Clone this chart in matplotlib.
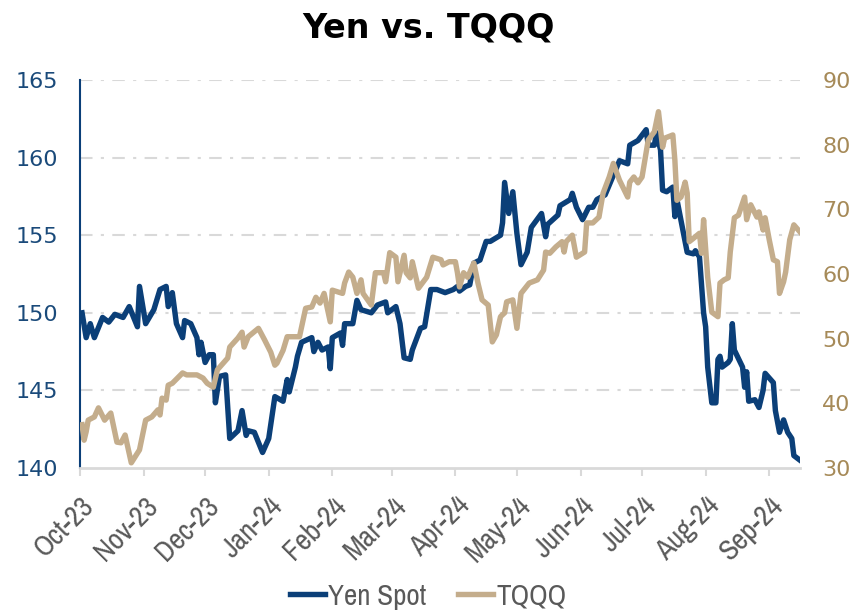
import matplotlib
matplotlib.use("Agg")
import matplotlib.pyplot as plt
import matplotlib.dates as mdates
from matplotlib import font_manager
import pandas as pd

# ── colours ──────────────────────────────────────────────────────────────────
BLUE = "#0b3f78"
BLUE_TXT = "#1a4a7a"
TAN = "#c4ad8c"
TAN_TXT = "#a68a58"
GRID = "#d9d9d9"
GRAY_TXT = "#595959"

# narrow font for the date labels / legend, if one is installed
NARROW = "DejaVu Sans"
for f in font_manager.fontManager.ttflist:
    if "Narrow" in f.name or "Condensed" in f.name:
        NARROW = f.name
        break

# ── data ─────────────────────────────────────────────────────────────────────
yen_dates = [
    "2023-10-02", "2023-10-04", "2023-10-06", "2023-10-08", "2023-10-12", "2023-10-15",
    "2023-10-18", "2023-10-22", "2023-10-25", "2023-10-29", "2023-10-30", "2023-11-02",
    "2023-11-06", "2023-11-09", "2023-11-12", "2023-11-13", "2023-11-15", "2023-11-17",
    "2023-11-20", "2023-11-21", "2023-11-24", "2023-11-27", "2023-11-28", "2023-11-29",
    "2023-12-01", "2023-12-03", "2023-12-05", "2023-12-06", "2023-12-08", "2023-12-11",
    "2023-12-13", "2023-12-17", "2023-12-19", "2023-12-21", "2023-12-22", "2023-12-25",
    "2023-12-29", "2024-01-01", "2024-01-04", "2024-01-08", "2024-01-10", "2024-01-11",
    "2024-01-14", "2024-01-15", "2024-01-17", "2024-01-22", "2024-01-23", "2024-01-25",
    "2024-01-27", "2024-01-30", "2024-01-31", "2024-02-01", "2024-02-05", "2024-02-06",
    "2024-02-07", "2024-02-11", "2024-02-13", "2024-02-15", "2024-02-20", "2024-02-23",
    "2024-02-27", "2024-02-28", "2024-03-03", "2024-03-05", "2024-03-07", "2024-03-10",
    "2024-03-11", "2024-03-15", "2024-03-17", "2024-03-20", "2024-03-23", "2024-03-27",
    "2024-03-31", "2024-04-02", "2024-04-03", "2024-04-06", "2024-04-08", "2024-04-10",
    "2024-04-13", "2024-04-16", "2024-04-18", "2024-04-23", "2024-04-24", "2024-04-25",
    "2024-04-27", "2024-04-29", "2024-05-01", "2024-05-03", "2024-05-06", "2024-05-08",
    "2024-05-13", "2024-05-15", "2024-05-16", "2024-05-21", "2024-05-22", "2024-05-27",
    "2024-05-28", "2024-05-30", "2024-06-02", "2024-06-05", "2024-06-07", "2024-06-09",
    "2024-06-13", "2024-06-20", "2024-06-24", "2024-06-25", "2024-06-29", "2024-07-03",
    "2024-07-04", "2024-07-07", "2024-07-08", "2024-07-10", "2024-07-11", "2024-07-13",
    "2024-07-16", "2024-07-17", "2024-07-18", "2024-07-23", "2024-07-26", "2024-07-27",
    "2024-07-29", "2024-07-31", "2024-08-01", "2024-08-02", "2024-08-04", "2024-08-06",
    "2024-08-07", "2024-08-08", "2024-08-09", "2024-08-12", "2024-08-13", "2024-08-14",
    "2024-08-15", "2024-08-19", "2024-08-20", "2024-08-21", "2024-08-22", "2024-08-25",
    "2024-08-27", "2024-08-29", "2024-08-30", "2024-09-03", "2024-09-04", "2024-09-06",
    "2024-09-08", "2024-09-10", "2024-09-12", "2024-09-13", "2024-09-16",
]
yen_spot = [
    150.0, 148.4, 149.3, 148.4, 149.7, 149.4,
    149.9, 149.7, 150.4, 149.1, 151.7, 149.3,
    150.2, 151.5, 151.7, 150.4, 151.3, 149.3,
    148.4, 149.5, 149.3, 148.4, 147.3, 148.1,
    146.8, 147.3, 147.3, 144.2, 145.9, 146.0,
    141.9, 142.4, 143.7, 142.1, 142.4, 142.3,
    141.0, 141.9, 144.6, 144.3, 145.7, 144.9,
    146.5, 147.2, 148.1, 148.4, 147.5, 148.1,
    147.6, 147.8, 146.4, 148.4, 148.7, 147.9,
    149.3, 149.3, 150.8, 150.2, 150.0, 150.5,
    150.7, 150.0, 150.4, 149.3, 147.1, 147.0,
    147.6, 149.0, 149.1, 151.5, 151.5, 151.3,
    151.5, 151.7, 151.4, 151.7, 151.8, 153.2,
    153.4, 154.6, 154.6, 155.0, 155.8, 158.4,
    156.4, 157.8, 155.1, 153.1, 153.9, 155.5,
    156.4, 154.9, 155.7, 156.3, 156.9, 157.3,
    157.7, 156.8, 156.0, 156.8, 156.8, 157.3,
    157.6, 159.8, 159.6, 160.8, 161.1, 161.8,
    160.8, 160.8, 161.6, 160.5, 157.9, 157.8,
    158.1, 156.2, 157.3, 153.9, 153.8, 154.0,
    153.6, 150.0, 149.1, 146.5, 144.2, 144.2,
    147.0, 147.2, 146.5, 146.8, 147.0, 149.3,
    147.6, 146.5, 145.2, 146.2, 144.3, 144.4,
    143.9, 145.0, 146.1, 145.5, 143.7, 142.3,
    143.1, 142.3, 141.9, 140.8, 140.5,
]

tqqq_dates = [
    "2023-10-02", "2023-10-03", "2023-10-04", "2023-10-05", "2023-10-08", "2023-10-10",
    "2023-10-13", "2023-10-16", "2023-10-19", "2023-10-21", "2023-10-23", "2023-10-26",
    "2023-10-30", "2023-11-02", "2023-11-05", "2023-11-08", "2023-11-09", "2023-11-10",
    "2023-11-12", "2023-11-13", "2023-11-15", "2023-11-20", "2023-11-22", "2023-11-27",
    "2023-11-30", "2023-12-02", "2023-12-05", "2023-12-07", "2023-12-12", "2023-12-13",
    "2023-12-17", "2023-12-19", "2023-12-20", "2023-12-22", "2023-12-27", "2023-12-30",
    "2024-01-02", "2024-01-04", "2024-01-05", "2024-01-08", "2024-01-10", "2024-01-16",
    "2024-01-19", "2024-01-22", "2024-01-24", "2024-01-26", "2024-01-28", "2024-01-31",
    "2024-02-01", "2024-02-06", "2024-02-07", "2024-02-09", "2024-02-11", "2024-02-13",
    "2024-02-15", "2024-02-16", "2024-02-20", "2024-02-22", "2024-02-26", "2024-02-27",
    "2024-02-29", "2024-03-03", "2024-03-04", "2024-03-07", "2024-03-08", "2024-03-10",
    "2024-03-11", "2024-03-14", "2024-03-18", "2024-03-21", "2024-03-25", "2024-03-26",
    "2024-03-29", "2024-04-01", "2024-04-02", "2024-04-03", "2024-04-05", "2024-04-07",
    "2024-04-10", "2024-04-12", "2024-04-14", "2024-04-17", "2024-04-19", "2024-04-21",
    "2024-04-23", "2024-04-25", "2024-04-26", "2024-04-29", "2024-05-01", "2024-05-03",
    "2024-05-05", "2024-05-07", "2024-05-11", "2024-05-14", "2024-05-15", "2024-05-17",
    "2024-05-20", "2024-05-23", "2024-05-24", "2024-05-25", "2024-05-28", "2024-05-30",
    "2024-06-03", "2024-06-04", "2024-06-07", "2024-06-10", "2024-06-12", "2024-06-15",
    "2024-06-17", "2024-06-20", "2024-06-24", "2024-06-25", "2024-06-27", "2024-06-29",
    "2024-07-01", "2024-07-04", "2024-07-07", "2024-07-09", "2024-07-11", "2024-07-12",
    "2024-07-16", "2024-07-17", "2024-07-18", "2024-07-20", "2024-07-22", "2024-07-23",
    "2024-07-24", "2024-07-26", "2024-07-29", "2024-07-30", "2024-07-31", "2024-08-02",
    "2024-08-04", "2024-08-07", "2024-08-08", "2024-08-10", "2024-08-12", "2024-08-13",
    "2024-08-15", "2024-08-17", "2024-08-19", "2024-08-20", "2024-08-21", "2024-08-23",
    "2024-08-26", "2024-08-27", "2024-08-29", "2024-08-30", "2024-09-01", "2024-09-03",
    "2024-09-05", "2024-09-06", "2024-09-08", "2024-09-09", "2024-09-11", "2024-09-13",
    "2024-09-16",
]
tqqq = [
    36.7, 34.3, 35.6, 37.4, 37.9, 39.3,
    37.4, 38.5, 34.0, 33.9, 35.1, 30.8,
    32.8, 37.4, 37.9, 39.0, 38.2, 40.8,
    40.5, 42.8, 43.1, 44.7, 44.4, 44.4,
    43.9, 43.1, 42.5, 45.2, 47.0, 48.7,
    50.1, 51.0, 48.7, 50.3, 51.6, 49.8,
    47.9, 45.9, 46.2, 48.2, 50.3, 50.3,
    54.7, 54.9, 56.4, 55.5, 57.0, 52.6,
    57.5, 57.0, 58.6, 60.3, 59.5, 57.0,
    59.1, 57.0, 55.2, 60.2, 60.2, 58.8,
    63.3, 62.6, 58.8, 62.9, 60.2, 59.4,
    61.9, 57.8, 59.5, 62.6, 62.2, 61.4,
    61.9, 61.9, 60.2, 58.0, 60.2, 59.5,
    61.7, 58.6, 56.0, 55.2, 49.5, 50.6,
    53.4, 54.0, 55.7, 56.0, 51.6, 57.0,
    57.8, 58.6, 59.1, 60.6, 63.4, 63.2,
    64.2, 65.0, 63.4, 65.0, 66.0, 62.6,
    63.4, 67.9, 67.9, 68.8, 72.5, 75.0,
    77.1, 74.5, 71.9, 74.2, 75.0, 74.1,
    75.0, 80.7, 82.0, 85.1, 79.6, 81.0,
    81.5, 77.6, 71.4, 71.9, 74.2, 72.5,
    65.0, 65.5, 66.3, 63.2, 68.4, 59.5,
    54.1, 53.4, 58.6, 59.1, 59.4, 63.4,
    68.7, 69.1, 71.0, 71.9, 68.4, 70.7,
    68.8, 69.6, 66.8, 68.7, 65.3, 62.2,
    61.9, 57.0, 58.8, 60.3, 65.3, 67.6,
    66.5,
]

month_ticks = pd.date_range("2023-10-01", "2024-09-01", freq="MS")

# ── figure ───────────────────────────────────────────────────────────────────
fig = plt.figure(figsize=(8.56, 6.13), dpi=100)
ax = fig.add_axes([80 / 856, 1 - 468 / 613, 720 / 856, 388 / 613])
ax2 = ax.twinx()

ax.plot(pd.to_datetime(yen_dates), yen_spot, color=BLUE, lw=3.9,
        solid_joinstyle="round", label="Yen Spot", zorder=3)
ax2.plot(pd.to_datetime(tqqq_dates), tqqq, color=TAN, lw=3.9,
         solid_joinstyle="round", label="TQQQ", zorder=3)

ax.set_xlim(pd.Timestamp("2023-10-01"), pd.Timestamp("2024-09-16"))
ax.set_ylim(140, 165)
ax2.set_ylim(30, 90)
ax.set_yticks(range(140, 166, 5))
ax2.set_yticks(range(30, 91, 10))

ax.set_xticks(month_ticks)
ax.xaxis.set_major_formatter(mdates.DateFormatter("%b-%y"))

# grid: dash-dot, from the left axis only
ax.grid(axis="y", color=GRID, lw=1.5, dashes=(6, 4, 1.5, 4))
ax.grid(axis="x", visible=False)
ax.set_axisbelow(True)

for s in ["top", "right"]:
    ax.spines[s].set_visible(False)
for s in ["top", "right", "left", "bottom"]:
    ax2.spines[s].set_visible(False)
ax.spines["left"].set_color(BLUE)
ax.spines["left"].set_linewidth(1.5)
ax.spines["bottom"].set_color(GRID)
ax.spines["bottom"].set_linewidth(2)

ax.tick_params(axis="y", length=0, pad=16, labelsize=16, labelcolor=BLUE_TXT)
ax2.tick_params(axis="y", length=0, pad=16, labelsize=16, labelcolor=TAN_TXT)
ax.tick_params(axis="x", length=6, width=1.5, color=GRID, labelsize=21,
               labelcolor=GRAY_TXT, pad=11)
for lab in ax.get_xticklabels():
    lab.set_rotation(45)
    lab.set_ha("right")
    lab.set_rotation_mode("anchor")
    lab.set_family([NARROW, "DejaVu Sans"])
    lab.set_stretch("condensed")
# hide the lowest gridline (sits on the bottom spine)
ax.get_ygridlines()[0].set_visible(False)

fig.text(0.5, 1 - 28 / 613, "Yen vs. TQQQ", ha="center", va="center",
         fontsize=24, fontweight="bold", color="black")

h1, l1 = ax.get_legend_handles_labels()
h2, l2 = ax2.get_legend_handles_labels()
fig.legend(h1 + h2, l1 + l2, loc="center", bbox_to_anchor=(0.5, 1 - 596 / 613),
           ncol=2, frameon=False, handlelength=1.2, handletextpad=0.1,
           columnspacing=1.1,
           prop={"family": [NARROW, "DejaVu Sans"], "size": 21,
                 "stretch": "condensed"},
           labelcolor=GRAY_TXT)

fig.savefig("out.png", dpi=100)
print("Saved: out.png")
